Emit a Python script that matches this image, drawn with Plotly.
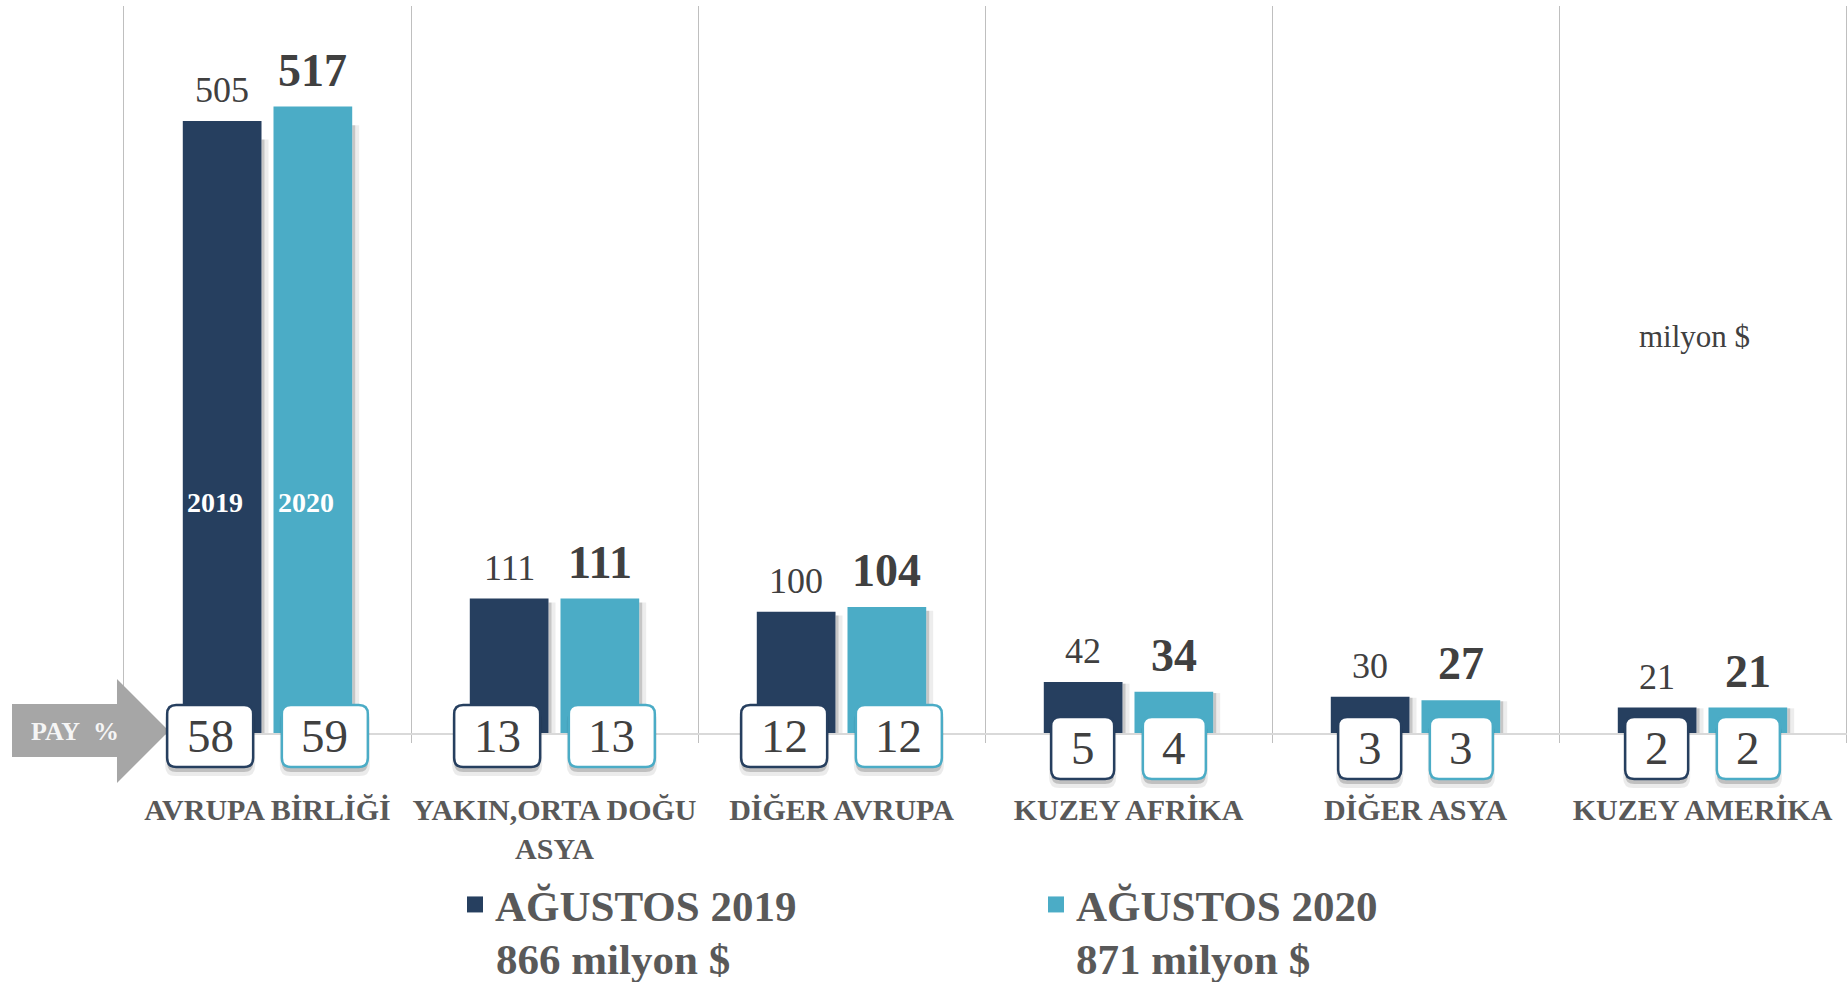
import plotly.graph_objects as go

# ---------------- data ----------------
categories = ["AVRUPA BİRLİĞİ", "YAKIN,ORTA DOĞU<br>ASYA", "DİĞER AVRUPA",
              "KUZEY AFRİKA", "DİĞER ASYA", "KUZEY AMERİKA"]
values_2019 = [505, 111, 100, 42, 30, 21]
values_2020 = [517, 111, 104, 34, 27, 21]
share_2019 = [58, 13, 12, 5, 3, 2]
share_2020 = [59, 13, 12, 4, 3, 2]
series_names = ["AĞUSTOS 2019", "AĞUSTOS 2020"]
series_totals = [866, 871]
year_labels = ["2019", "2020"]
unit_label = "milyon $"
pay_label = "PAY\u00a0\u00a0%"

# ---------------- style ----------------
SERIF = "Times New Roman, Liberation Serif, serif"
DARK = "#263F5F"
LIGHT = "#4BACC6"
TEXT = "#404040"
LABEL = "#595959"
GRID = "#BFBFBF"
BASE = "#D9D9D9"
ARROW = "#A6A6A6"

W, H = 1848, 982
M_L, M_R, M_T, M_B = 124, 2, 6, 249
PLOT_W = W - M_L - M_R
PLOT_H = H - M_T - M_B
Y_MAX = 600
YEAR_LABEL_Y = 190
BARGAP = 0.368
BARGROUPGAP = 0.132

n = len(categories)
cat_px = PLOT_W / n
slot_px = (1 - BARGAP) * cat_px / 2
bar_px = slot_px * (1 - BARGROUPGAP)
offsets = [-slot_px / 2, slot_px / 2]


def pxx(px):
    return (px - M_L) / PLOT_W


def pxy(py):
    return (H - M_B - py) / PLOT_H


def rrect(x0, y0, x1, y1, r):
    return (f"M{x0 + r},{y0} L{x1 - r},{y0} Q{x1},{y0} {x1},{y0 + r} "
            f"L{x1},{y1 - r} Q{x1},{y1} {x1 - r},{y1} L{x0 + r},{y1} "
            f"Q{x0},{y1} {x0},{y1 - r} L{x0},{y0 + r} Q{x0},{y0} {x0 + r},{y0} Z")


series = [
    dict(name=series_names[0], values=values_2019, shares=share_2019, color=DARK, bold=False),
    dict(name=series_names[1], values=values_2020, shares=share_2020, color=LIGHT, bold=True),
]

fig = go.Figure()
for s in series:
    fig.add_trace(go.Bar(x=categories, y=s["values"], name=s["name"],
                         marker=dict(color=s["color"], line=dict(width=0)),
                         showlegend=False, hoverinfo="skip"))
for s in series:
    fig.add_trace(go.Scatter(x=[None], y=[None], mode="markers", name=s["name"],
                             marker=dict(symbol="square", size=16, color=s["color"]),
                             showlegend=True, hoverinfo="skip"))

shapes = []
annotations = []

# PAY % arrow (decoration, paper coordinates)
arrow_pts = [(12, 704), (117, 704), (117, 679), (169, 731), (117, 783), (117, 757), (12, 757)]
path = "M" + " L".join(f"{pxx(x):.5f},{pxy(y):.5f}" for x, y in arrow_pts) + " Z"
shapes.append(dict(type="path", xref="paper", yref="paper", path=path,
                   fillcolor=ARROW, line=dict(width=0), layer="above"))
annotations.append(dict(x=pxx(75), y=pxy(731), xref="paper", yref="paper", text=pay_label,
                        showarrow=False, xanchor="center", yanchor="middle",
                        font=dict(family=SERIF, size=26, color="#F5F5F5", weight="bold")))

for si, s in enumerate(series):
    off = offsets[si]
    for i, (v, p) in enumerate(zip(s["values"], s["shares"])):
        # soft shadow on the right of each bar
        for w, a in ((3, 0.16), (7, 0.07)):
            shapes.append(dict(type="rect", xref="x", yref="y", xsizemode="pixel", xanchor=i,
                               x0=off + bar_px / 2, x1=off + bar_px / 2 + w,
                               y0=0, y1=v * 0.97, fillcolor=f"rgba(0,0,0,{a})",
                               line=dict(width=0), layer="below"))
        # value label above bar
        annotations.append(dict(x=i, y=v, xref="x", yref="y", xshift=off, yshift=9,
                                yanchor="bottom", xanchor="center", text=str(v), showarrow=False,
                                font=dict(family=SERIF, size=46 if s["bold"] else 36, color=TEXT,
                                          weight="bold" if s["bold"] else "normal")))
        # share box
        digits = len(str(p))
        bw = 40 + 23 * digits
        if si == 0:
            bx1 = off + 31
            bx0 = bx1 - bw
        else:
            bx0 = off - 31
            bx1 = bx0 + bw
        cy = -3 if digits > 1 else -15
        by0, by1 = cy - 31, cy + 31
        common = dict(type="path", xref="x", yref="paper", xsizemode="pixel", ysizemode="pixel",
                      xanchor=i, yanchor=0, layer="above")
        shapes.append(dict(common, path=rrect(bx0 - 2, by0 - 9, bx1 + 2, by1 - 6, 10),
                           fillcolor="rgba(0,0,0,0.08)", line=dict(width=0)))
        shapes.append(dict(common, path=rrect(bx0, by0 - 5, bx1, by1 - 5, 9),
                           fillcolor="rgba(0,0,0,0.18)", line=dict(width=0)))
        shapes.append(dict(common, path=rrect(bx0, by0, bx1, by1, 9),
                           fillcolor="white", line=dict(color=s["color"], width=2.5)))
        annotations.append(dict(x=i, y=0, xref="x", yref="y", xshift=(bx0 + bx1) / 2, yshift=cy,
                                xanchor="center", yanchor="middle", text=str(p), showarrow=False,
                                font=dict(family=SERIF, size=47, color=TEXT)))
    # year label inside first bar
    annotations.append(dict(x=0, y=YEAR_LABEL_Y, xref="x", yref="y", xshift=off - 7,
                            text=year_labels[si], showarrow=False, xanchor="center", yanchor="middle",
                            font=dict(family=SERIF, size=28, color="white", weight="bold")))

# totals under the legend entries
total_text_x = [494, 1074]
for si, tot in enumerate(series_totals):
    annotations.append(dict(x=pxx(total_text_x[si]), y=pxy(959), xref="paper", yref="paper",
                            text=f"{tot} {unit_label}", showarrow=False,
                            xanchor="left", yanchor="middle",
                            font=dict(family=SERIF, size=43, color=LABEL, weight="bold")))

annotations.append(dict(x=pxx(1694), y=pxy(336), xref="paper", yref="paper", text=unit_label,
                        showarrow=False, xanchor="center", yanchor="middle",
                        font=dict(family=SERIF, size=31, color=TEXT)))

fig.update_layout(
    width=W, height=H,
    margin=dict(l=M_L, r=M_R, t=M_T, b=M_B, autoexpand=False),
    paper_bgcolor="white", plot_bgcolor="white",
    barmode="group", bargap=BARGAP, bargroupgap=BARGROUPGAP,
    xaxis=dict(type="category", range=[-0.5, n - 0.5], tickson="boundaries",
               showgrid=True, gridcolor=GRID, gridwidth=1.3,
               ticks="outside", ticklen=8, tickcolor=GRID, tickwidth=1.3,
               showline=True, linecolor=BASE, linewidth=1.5, tickangle=0,
               tickfont=dict(family=SERIF, size=30, color=LABEL, weight="bold"),
               ticklabelstandoff=49, fixedrange=True),
    yaxis=dict(range=[0, Y_MAX], visible=True, showticklabels=False, showgrid=False,
               zeroline=False, ticks="", showline=True, mirror=True, linecolor=GRID,
               linewidth=1.3, fixedrange=True),
    showlegend=True,
    legend=dict(orientation="h", x=pxx(455), y=pxy(870), xanchor="left", yanchor="top",
                font=dict(family=SERIF, size=43, color=LABEL, weight="bold"),
                itemsizing="trace", entrywidth=536, entrywidthmode="pixels",
                bgcolor="rgba(0,0,0,0)", traceorder="normal"),
    shapes=shapes, annotations=annotations,
)

fig.write_html("out.html", config={"displayModeBar": False},
               post_script="document.body.style.margin='0';document.body.style.overflow='hidden';")
